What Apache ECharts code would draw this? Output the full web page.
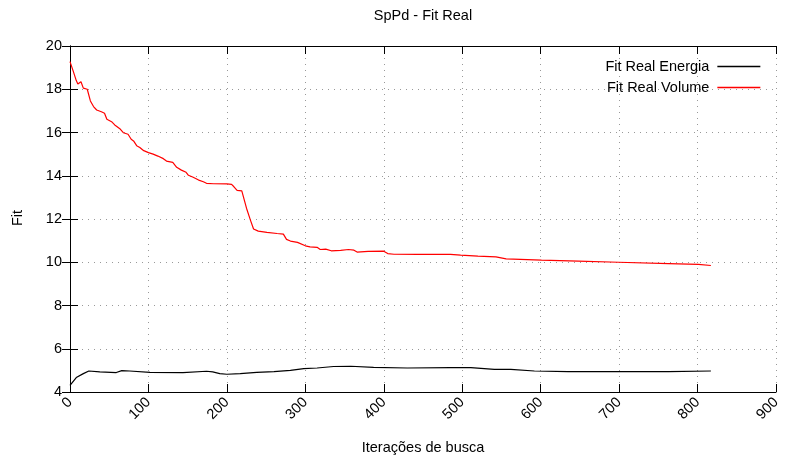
<!DOCTYPE html>
<html>
<head>
<meta charset="utf-8">
<script src="https://cdn.jsdelivr.net/npm/echarts@6/dist/echarts.min.js"></script>
<style>
html,body{margin:0;padding:0;background:#fff;}
#chart{width:791px;height:460px;}
</style>
</head>
<body>
<div id="chart"></div>
<script>
var titleText = 'SpPd - Fit Real';
var xAxisName = 'Iterações de busca';
var yAxisName = 'Fit';
var seriesNames = ['Fit Real Energia', 'Fit Real Volume'];

var energiaX = [0,8,17,24,38,59,66,76,102,144,174,182,191,200,217,238,260,281,298,315,336,358,387,430,485,511,541,562,592,635,699,763,817];
var energiaY = [4.31,4.67,4.85,4.97,4.93,4.90,4.99,4.97,4.91,4.90,4.96,4.93,4.85,4.82,4.85,4.91,4.94,5.0,5.08,5.11,5.18,5.19,5.14,5.11,5.13,5.13,5.05,5.05,4.97,4.94,4.94,4.94,4.97];

var volumeX = [0,4,8,10,14,17,22,26,30,34,40,44,47,53,57,64,68,74,78,81,85,89,94,100,106,112,119,123,131,136,142,148,151,157,164,170,174,183,200,206,209,213,219,225,230,234,240,251,264,272,276,281,290,300,306,315,319,326,333,345,355,362,366,380,400,405,413,443,485,498,520,543,556,601,648,699,763,801,817];
var volumeY = [19.28,18.85,18.4,18.24,18.35,18.05,18.0,17.46,17.2,17.04,16.96,16.89,16.61,16.5,16.35,16.16,15.99,15.92,15.69,15.61,15.39,15.31,15.16,15.07,15.0,14.91,14.79,14.68,14.62,14.39,14.26,14.16,14.02,13.93,13.8,13.72,13.65,13.63,13.62,13.6,13.49,13.32,13.3,12.5,11.95,11.54,11.44,11.38,11.33,11.3,11.06,10.98,10.92,10.76,10.71,10.69,10.59,10.61,10.53,10.55,10.59,10.56,10.47,10.5,10.51,10.4,10.37,10.36,10.36,10.33,10.28,10.25,10.16,10.10,10.05,10.0,9.94,9.9,9.85];

var xMin = 0, xMax = 900, xStep = 100;
var yMin = 4, yMax = 20, yStep = 2;

function zip(a, b) { return a.map(function (v, i) { return [v, b[i]]; }); }

var FONT = 'Liberation Sans, Arial, Helvetica, sans-serif';
var FS = 14.5;

var chart = echarts.init(document.getElementById('chart'), null, {renderer: 'canvas'});

var gridLine = {show: true, lineStyle: {color: '#999', width: 1, type: [1, 5]}};
var axisLine = {show: true, lineStyle: {color: '#000', width: 1}};
var tick = {show: true, inside: true, length: 8, lineStyle: {color: '#000', width: 1}};

chart.setOption({
  animation: false,
  backgroundColor: '#fff',
  grid: {left: 70, right: 15, top: 46, bottom: 68, containLabel: false},
  graphic: [
    {type: 'text', x: 423, y: 16, style: {text: titleText, font: FS + 'px ' + FONT, fill: '#000', textAlign: 'center', textVerticalAlign: 'middle'}},
    {type: 'text', x: 423, y: 448, style: {text: xAxisName, font: FS + 'px ' + FONT, fill: '#000', textAlign: 'center', textVerticalAlign: 'middle'}},
    {type: 'text', x: 18, y: 218, rotation: Math.PI / 2, style: {text: yAxisName, font: FS + 'px ' + FONT, fill: '#000', textAlign: 'center', textVerticalAlign: 'middle'}}
  ],
  legend: {
    orient: 'vertical',
    align: 'right',
    right: 25,
    top: 53,
    itemWidth: 43,
    itemHeight: 14,
    itemGap: 4,
    data: seriesNames,
    itemStyle: {opacity: 0},
    lineStyle: {width: 1.3},
    textStyle: {fontFamily: FONT, fontSize: FS, color: '#000', lineHeight: 17, padding: [0, 3, 0, 0]}
  },
  xAxis: [
    {
      type: 'value', min: xMin, max: xMax, interval: xStep, position: 'bottom',
      axisLine: axisLine, axisTick: tick, splitLine: gridLine,
      axisLabel: {rotate: 45, margin: 8, fontFamily: FONT, fontSize: FS, color: '#000'}
    },
    {
      type: 'value', min: xMin, max: xMax, interval: xStep, position: 'top',
      axisLine: axisLine, axisTick: tick, splitLine: {show: false}, axisLabel: {show: false}
    }
  ],
  yAxis: [
    {
      type: 'value', min: yMin, max: yMax, interval: yStep, position: 'left',
      axisLine: axisLine, axisTick: tick, splitLine: gridLine,
      axisLabel: {margin: 8, fontFamily: FONT, fontSize: FS, color: '#000'}
    },
    {
      type: 'value', min: yMin, max: yMax, interval: yStep, position: 'right',
      axisLine: axisLine, axisTick: tick, splitLine: {show: false}, axisLabel: {show: false}
    }
  ],
  series: [
    {
      name: seriesNames[0], type: 'line', data: zip(energiaX, energiaY),
      symbol: 'none', showSymbol: false, color: '#000',
      lineStyle: {color: '#000', width: 1.2}, z: 3
    },
    {
      name: seriesNames[1], type: 'line', data: zip(volumeX, volumeY),
      symbol: 'none', showSymbol: false, color: '#ff0000',
      lineStyle: {color: '#ff0000', width: 1.2}, z: 3
    }
  ]
});
</script>
</body>
</html>
